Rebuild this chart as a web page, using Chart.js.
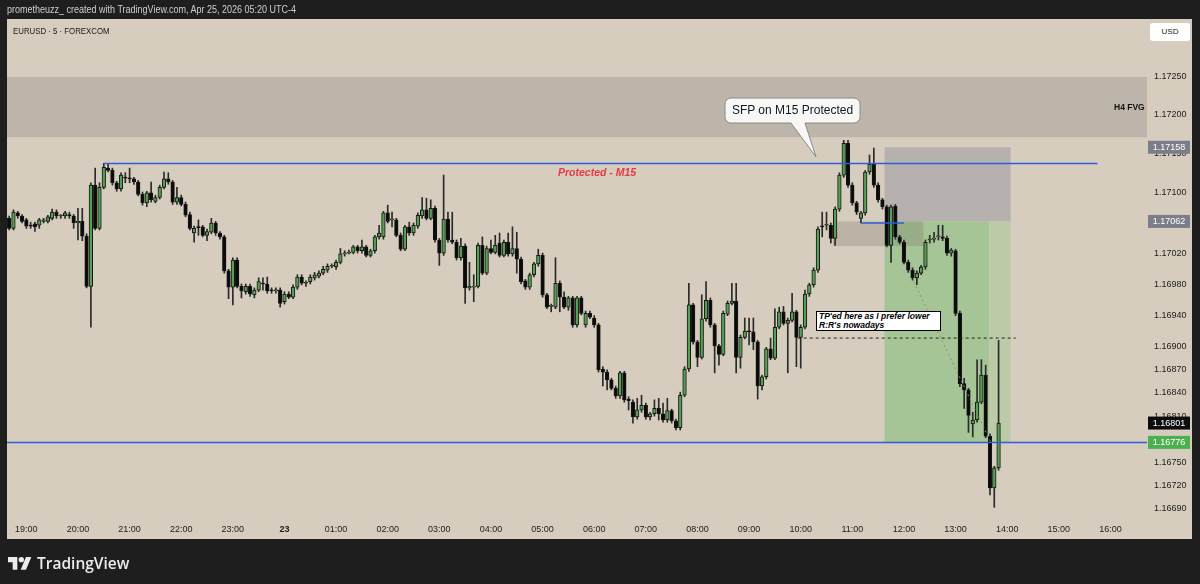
<!DOCTYPE html>
<html>
<head>
<meta charset="utf-8">
<title>EURUSD 5</title>
<script src="https://cdn.jsdelivr.net/npm/chart.js@4.4.1/dist/chart.umd.min.js"></script>
<style>
html, body { margin: 0; padding: 0; background: #1e1e1e; }
#wrap { position: relative; width: 1200px; height: 584px; overflow: hidden; font-family: "Liberation Sans", Arial, sans-serif; }
#chart { position: absolute; left: 0; top: 0; }
.lbl { position: absolute; white-space: nowrap; }
#hdr { left: 7px; top: 4px; font-size: 10px; color: #cfcfcf; transform: scaleX(0.9); transform-origin: left top; }
#sym { left: 13px; top: 26px; font-size: 9px; color: #1a1a1a; transform: scaleX(0.87); transform-origin: left top; }
#usd { left: 1150px; top: 23px; width: 40px; height: 18px; line-height: 18px; background: #fff; border-radius: 3px; font-size: 8px; color: #222; text-align: center; }
#sfp { left: 725px; top: 98px; width: 135px; line-height: 25px; text-align: center; font-size: 12px; color: #131722; }
#prot { left: 558px; top: 166px; font-size: 10.5px; font-weight: bold; font-style: italic; color: #e63946; }
#fvg { left: 1114px; top: 102px; font-size: 8.5px; font-weight: bold; color: #111; }
#tp { left: 816px; top: 311px; width: 121px; height: 18px; border: 1px solid #000; background: #fff; font-size: 8.5px; line-height: 9px; font-weight: bold; font-style: italic; padding-left: 2px; color: #000; }
#logo { left: 8px; top: 552px; color: #ececec; font-family: "Open Sans", "Liberation Sans", sans-serif; font-size: 15.5px; font-weight: 600; display: flex; align-items: center; gap: 5px; }
</style>
</head>
<body>
<div id="wrap">
  <canvas id="chart" width="1200" height="584"></canvas>
  <div class="lbl" id="hdr">prometheuzz_ created with TradingView.com, Apr 25, 2026 05:20 UTC-4</div>
  <div class="lbl" id="sym">EURUSD · 5 · FOREXCOM</div>
  <div class="lbl" id="usd">USD</div>
  <div class="lbl" id="sfp">SFP on M15 Protected</div>
  <div class="lbl" id="prot">Protected - M15</div>
  <div class="lbl" id="fvg">H4 FVG</div>
  <div class="lbl" id="tp">TP'ed here as I prefer lower<br>R:R's nowadays</div>
  <div class="lbl" id="logo">
    <svg width="24" height="16" viewBox="0 0 36 24"><path d="M14 22H7V11H0V3h14v19z" fill="#ececec"/><circle cx="20" cy="7" r="4" fill="#ececec"/><path d="M27 22h-8l8-19h8l-8 19z" fill="#ececec"/></svg>
    <span>TradingView</span>
  </div>
</div>
<script>
// 5 min candles, first one at 18:40
const opens = [
  1.17066, 1.17053, 1.17073, 1.17069, 1.17064, 1.17057, 1.17059, 1.17057, 1.17062, 1.17062,
  1.17066, 1.17074, 1.17069, 1.17069, 1.17071, 1.17069, 1.17060, 1.17062, 1.17043, 1.16978,
  1.17109, 1.17053, 1.17106, 1.17131, 1.17128, 1.17112, 1.17104, 1.17119, 1.17118, 1.17117,
  1.17113, 1.17097, 1.17086, 1.17099, 1.17088, 1.17093, 1.17106, 1.17117, 1.17113, 1.17087,
  1.17093, 1.17084, 1.17071, 1.17047, 1.17055, 1.17055, 1.17044, 1.17048, 1.17060, 1.17047,
  1.17042, 1.16998, 1.16977, 1.17012, 1.16978, 1.16971, 1.16978, 1.16967, 1.16973, 1.16982,
  1.16981, 1.16973, 1.16972, 1.16973, 1.16958, 1.16968, 1.16964, 1.16977, 1.16990, 1.16982,
  1.16984, 1.16989, 1.16991, 1.16995, 1.16999, 1.17004, 1.17003, 1.17009, 1.17020, 1.17021,
  1.17022, 1.17029, 1.17024, 1.17029, 1.17018, 1.17024, 1.17042, 1.17042, 1.17073, 1.17064,
  1.17064, 1.17044, 1.17026, 1.17055, 1.17047, 1.17056, 1.17069, 1.17077, 1.17066, 1.17079,
  1.17038, 1.17021, 1.17065, 1.17038, 1.17035, 1.17015, 1.17030, 1.16976, 1.16977, 1.16978,
  1.17031, 1.16995, 1.17027, 1.17022, 1.17034, 1.17018, 1.17035, 1.17020, 1.17027, 1.17013,
  1.16985, 1.16977, 1.16993, 1.17007, 1.17018, 1.16967, 1.16952, 1.16951, 1.16982, 1.16964,
  1.16951, 1.16963, 1.16928, 1.16963, 1.16928, 1.16943, 1.16937, 1.16928, 1.16871, 1.16867,
  1.16857, 1.16846, 1.16836, 1.16866, 1.16832, 1.16828, 1.16809, 1.16818, 1.16824, 1.16809,
  1.16813, 1.16820, 1.16813, 1.16805, 1.16817, 1.16804, 1.16795, 1.16837, 1.16871, 1.16954,
  1.16906, 1.16886, 1.16936, 1.16960, 1.16928, 1.16901, 1.16890, 1.16942, 1.16956, 1.16959,
  1.16886, 1.16912, 1.16920, 1.16919, 1.16906, 1.16849, 1.16861, 1.16897, 1.16885, 1.16925,
  1.16945, 1.16930, 1.16934, 1.16945, 1.16912, 1.16925, 1.16968, 1.16980, 1.16999, 1.17056,
  1.17057, 1.17057, 1.17040, 1.17078, 1.17122, 1.17163, 1.17109, 1.17086, 1.17066, 1.17073,
  1.17126, 1.17137, 1.17109, 1.17090, 1.17081, 1.17031, 1.17082, 1.17042, 1.17035, 1.17009,
  1.16999, 1.16989, 1.16995, 1.17003, 1.17038, 1.17039, 1.17042, 1.17042, 1.17040, 1.17021,
  1.17024, 1.16943, 1.16852, 1.16844, 1.16800, 1.16805, 1.16828, 1.16863, 1.16784, 1.16717,
  1.16743
];
const highs = [
  1.17069, 1.17077, 1.17075, 1.17071, 1.17066, 1.17061, 1.17061, 1.17066, 1.17066, 1.17070,
  1.17078, 1.17077, 1.17071, 1.17075, 1.17074, 1.17071, 1.17079, 1.17079, 1.17046, 1.17112,
  1.17131, 1.17112, 1.17137, 1.17137, 1.17131, 1.17114, 1.17125, 1.17125, 1.17131, 1.17119,
  1.17115, 1.17100, 1.17101, 1.17113, 1.17096, 1.17109, 1.17126, 1.17125, 1.17115, 1.17106,
  1.17096, 1.17087, 1.17074, 1.17056, 1.17064, 1.17057, 1.17052, 1.17066, 1.17062, 1.17049,
  1.17044, 1.17000, 1.17015, 1.17015, 1.16981, 1.16981, 1.16981, 1.16976, 1.16989, 1.16989,
  1.16990, 1.16976, 1.16976, 1.16976, 1.16971, 1.16971, 1.16980, 1.16993, 1.16993, 1.16985,
  1.16993, 1.16996, 1.16998, 1.17004, 1.17007, 1.17007, 1.17012, 1.17027, 1.17024, 1.17025,
  1.17031, 1.17031, 1.17038, 1.17031, 1.17026, 1.17044, 1.17057, 1.17075, 1.17083, 1.17074,
  1.17066, 1.17047, 1.17057, 1.17061, 1.17060, 1.17073, 1.17093, 1.17092, 1.17090, 1.17082,
  1.17040, 1.17122, 1.17074, 1.17074, 1.17038, 1.17040, 1.17033, 1.17009, 1.16993, 1.17034,
  1.17042, 1.17030, 1.17038, 1.17044, 1.17047, 1.17038, 1.17047, 1.17055, 1.17048, 1.17016,
  1.16987, 1.16995, 1.17009, 1.17026, 1.17021, 1.16969, 1.16955, 1.17015, 1.16985, 1.16971,
  1.16965, 1.16965, 1.16965, 1.16965, 1.16946, 1.16946, 1.16940, 1.16930, 1.16874, 1.16870,
  1.16859, 1.16849, 1.16868, 1.16868, 1.16835, 1.16831, 1.16833, 1.16837, 1.16827, 1.16815,
  1.16831, 1.16833, 1.16827, 1.16833, 1.16819, 1.16806, 1.16841, 1.16874, 1.16982, 1.16956,
  1.16908, 1.16967, 1.16984, 1.16963, 1.16930, 1.16903, 1.16946, 1.16959, 1.16982, 1.16982,
  1.16915, 1.16937, 1.16937, 1.16937, 1.16908, 1.16863, 1.16899, 1.16911, 1.16949, 1.16951,
  1.16952, 1.16937, 1.16969, 1.16947, 1.16928, 1.16973, 1.16982, 1.17002, 1.17055, 1.17074,
  1.17074, 1.17060, 1.17081, 1.17125, 1.17167, 1.17167, 1.17112, 1.17088, 1.17075, 1.17128,
  1.17148, 1.17157, 1.17112, 1.17092, 1.17083, 1.17083, 1.17084, 1.17044, 1.17038, 1.17012,
  1.17002, 1.16998, 1.17005, 1.17038, 1.17044, 1.17048, 1.17057, 1.17057, 1.17043, 1.17027,
  1.17026, 1.16946, 1.16859, 1.16846, 1.16815, 1.16883, 1.16883, 1.16876, 1.16787, 1.16745,
  1.16908
];
const lows = [
  1.17051, 1.17051, 1.17066, 1.17060, 1.17053, 1.17053, 1.17049, 1.17053, 1.17060, 1.17060,
  1.17064, 1.17066, 1.17066, 1.17066, 1.17066, 1.17053, 1.17038, 1.17037, 1.16976, 1.16925,
  1.17051, 1.17051, 1.17104, 1.17126, 1.17109, 1.17101, 1.17101, 1.17112, 1.17112, 1.17110,
  1.17095, 1.17083, 1.17081, 1.17087, 1.17086, 1.17091, 1.17104, 1.17110, 1.17084, 1.17084,
  1.17082, 1.17068, 1.17051, 1.17035, 1.17044, 1.17042, 1.17037, 1.17046, 1.17044, 1.17039,
  1.16995, 1.16962, 1.16954, 1.16976, 1.16963, 1.16968, 1.16965, 1.16963, 1.16971, 1.16973,
  1.16969, 1.16969, 1.16969, 1.16951, 1.16955, 1.16962, 1.16962, 1.16974, 1.16980, 1.16978,
  1.16981, 1.16986, 1.16989, 1.16993, 1.16996, 1.17002, 1.17000, 1.17007, 1.17017, 1.17020,
  1.17020, 1.17021, 1.17021, 1.17016, 1.17016, 1.17021, 1.17039, 1.17039, 1.17060, 1.17055,
  1.17042, 1.17024, 1.17024, 1.17044, 1.17044, 1.17053, 1.17066, 1.17064, 1.17064, 1.17035,
  1.17005, 1.17018, 1.17035, 1.17033, 1.17012, 1.17012, 1.16956, 1.16973, 1.16958, 1.16976,
  1.16993, 1.16993, 1.17020, 1.17020, 1.17016, 1.17016, 1.17017, 1.17017, 1.16995, 1.16981,
  1.16974, 1.16974, 1.16990, 1.17004, 1.16964, 1.16949, 1.16945, 1.16949, 1.16945, 1.16949,
  1.16947, 1.16925, 1.16925, 1.16941, 1.16925, 1.16936, 1.16925, 1.16867, 1.16849, 1.16844,
  1.16844, 1.16833, 1.16833, 1.16828, 1.16818, 1.16801, 1.16806, 1.16815, 1.16806, 1.16805,
  1.16810, 1.16805, 1.16802, 1.16802, 1.16801, 1.16792, 1.16792, 1.16835, 1.16868, 1.16903,
  1.16874, 1.16884, 1.16933, 1.16925, 1.16866, 1.16876, 1.16888, 1.16940, 1.16954, 1.16866,
  1.16872, 1.16910, 1.16902, 1.16896, 1.16832, 1.16844, 1.16858, 1.16883, 1.16883, 1.16923,
  1.16928, 1.16866, 1.16932, 1.16874, 1.16872, 1.16923, 1.16965, 1.16977, 1.16996, 1.17042,
  1.17051, 1.17034, 1.17031, 1.17075, 1.17119, 1.17106, 1.17083, 1.17071, 1.17060, 1.17070,
  1.17123, 1.17106, 1.17087, 1.17078, 1.17029, 1.17009, 1.17039, 1.17033, 1.17007, 1.16996,
  1.16986, 1.16980, 1.16993, 1.17000, 1.17034, 1.17035, 1.17038, 1.17037, 1.17018, 1.17017,
  1.16940, 1.16848, 1.16820, 1.16789, 1.16783, 1.16802, 1.16826, 1.16782, 1.16708, 1.16692,
  1.16740
];
const closes = [
  1.17053, 1.17074, 1.17069, 1.17062, 1.17056, 1.17056, 1.17055, 1.17064, 1.17064, 1.17068,
  1.17074, 1.17069, 1.17070, 1.17073, 1.17069, 1.17060, 1.17062, 1.17043, 1.16978, 1.17109,
  1.17053, 1.17106, 1.17132, 1.17128, 1.17112, 1.17104, 1.17122, 1.17118, 1.17117, 1.17113,
  1.17097, 1.17086, 1.17099, 1.17090, 1.17093, 1.17106, 1.17117, 1.17113, 1.17087, 1.17093,
  1.17084, 1.17070, 1.17053, 1.17053, 1.17054, 1.17044, 1.17049, 1.17060, 1.17047, 1.17042,
  1.16998, 1.16977, 1.17012, 1.16978, 1.16972, 1.16978, 1.16968, 1.16973, 1.16984, 1.16981,
  1.16972, 1.16972, 1.16973, 1.16956, 1.16968, 1.16964, 1.16977, 1.16990, 1.16982, 1.16982,
  1.16990, 1.16993, 1.16995, 1.17000, 1.17004, 1.17004, 1.17009, 1.17020, 1.17021, 1.17022,
  1.17029, 1.17024, 1.17029, 1.17018, 1.17024, 1.17042, 1.17047, 1.17073, 1.17062, 1.17064,
  1.17044, 1.17026, 1.17055, 1.17047, 1.17057, 1.17070, 1.17077, 1.17066, 1.17079, 1.17038,
  1.17021, 1.17065, 1.17038, 1.17035, 1.17015, 1.17030, 1.16976, 1.16978, 1.16977, 1.17031,
  1.16995, 1.17027, 1.17022, 1.17031, 1.17018, 1.17035, 1.17020, 1.17027, 1.17013, 1.16984,
  1.16977, 1.16993, 1.17007, 1.17018, 1.16967, 1.16951, 1.16952, 1.16982, 1.16964, 1.16951,
  1.16963, 1.16928, 1.16963, 1.16943, 1.16943, 1.16938, 1.16928, 1.16870, 1.16867, 1.16857,
  1.16846, 1.16836, 1.16866, 1.16831, 1.16830, 1.16809, 1.16818, 1.16824, 1.16809, 1.16813,
  1.16820, 1.16813, 1.16805, 1.16817, 1.16804, 1.16795, 1.16837, 1.16871, 1.16954, 1.16906,
  1.16886, 1.16936, 1.16960, 1.16928, 1.16901, 1.16890, 1.16943, 1.16956, 1.16959, 1.16886,
  1.16912, 1.16920, 1.16919, 1.16906, 1.16849, 1.16861, 1.16897, 1.16885, 1.16925, 1.16945,
  1.16930, 1.16934, 1.16945, 1.16912, 1.16925, 1.16968, 1.16980, 1.16999, 1.17052, 1.17055,
  1.17057, 1.17040, 1.17078, 1.17122, 1.17163, 1.17109, 1.17086, 1.17074, 1.17073, 1.17126,
  1.17136, 1.17109, 1.17090, 1.17081, 1.17031, 1.17081, 1.17042, 1.17035, 1.17009, 1.16999,
  1.16989, 1.16995, 1.17003, 1.17035, 1.17039, 1.17040, 1.17043, 1.17040, 1.17021, 1.17025,
  1.16943, 1.16852, 1.16844, 1.16811, 1.16805, 1.16828, 1.16863, 1.16784, 1.16717, 1.16743,
  1.16801
];

const hourLabels = ['19:00', '20:00', '21:00', '22:00', '23:00', '23', '01:00', '02:00', '03:00', '04:00', '05:00',
  '06:00', '07:00', '08:00', '09:00', '10:00', '11:00', '12:00', '13:00', '14:00', '15:00', '16:00'];
const priceTicks = [1.17250, 1.17200, 1.17150, 1.17100, 1.17020, 1.16980, 1.16940, 1.16900,
  1.16870, 1.16840, 1.16810, 1.16750, 1.16720, 1.16690];

// drawn levels (price) and zones
const fvgZone = [1.17171, 1.17249];
const protectedLevel = 1.17137;
const protectedSpan = [22, 253];
const sfpLevel = 1.17060;
const sfpSpan = [198, 208];
const obZone = [1.17030, 1.17062];
const obSpan = [191.5, 212.5];
const stopPrice = 1.17158;
const entryPrice = 1.17062;
const targetPrice = 1.16776;
const positionSpan = [203.5, 227.7, 232.8];
const tpLevel = 1.16911;
const tpSpan = [183.3, 234];
const pathLine = [[210.3, 1.16984], [228.2, 1.16776]];
const lastPrice = 1.16801;
const tagPrices = [stopPrice, entryPrice, lastPrice, targetPrice];
const tagColors = ['#7b7e88', '#7b7e88', '#0d0d0d', '#4caf50'];

// category slots every 5 min from 18:40 up to 16:40
const slots = [];
for (let i = 0; i < 265; i++) {
  const m = (18 * 60 + 40 + i * 5) % 1440;
  slots.push(String(Math.floor(m / 60)).padStart(2, '0') + ':' + String(m % 60).padStart(2, '0'));
}
const hourSlots = slots.map((s, i) => s.endsWith(':00') ? i : -1).filter(i => i >= 0);

const bodies = opens.map((o, i) => [o, closes[i]]);
const wicks = lows.map((l, i) => [l, highs[i]]);
const bodyColors = opens.map((o, i) => closes[i] >= o ? '#55a052' : '#0a0a0a');

const BLUE = '#2f5cdc';

const drawings = {
  id: 'drawings',
  beforeDraw(chart) {
    const ctx = chart.ctx;
    ctx.save();
    ctx.fillStyle = '#1e1e1e';
    ctx.fillRect(0, 0, chart.width, chart.height);
    ctx.fillStyle = '#d6cdbe';
    ctx.fillRect(7, 19, 1185, 520);
    ctx.restore();
  },
  beforeDatasetsDraw(chart) {
    const { ctx, chartArea: a, scales: { x, y } } = chart;
    const X = v => x.getPixelForValue(v);
    const Y = v => y.getPixelForValue(v);
    ctx.save();
    // H4 FVG
    ctx.fillStyle = '#bdb5a9';
    ctx.fillRect(a.left, Y(fvgZone[1]), a.right - a.left, Y(fvgZone[0]) - Y(fvgZone[1]));
    // position: stop side
    ctx.fillStyle = '#b6b0ae';
    ctx.fillRect(X(positionSpan[0]), Y(stopPrice), X(positionSpan[2]) - X(positionSpan[0]), Y(entryPrice) - Y(stopPrice));
    // position: target side
    ctx.fillStyle = '#bccaa8';
    ctx.fillRect(X(positionSpan[0]), Y(entryPrice), X(positionSpan[2]) - X(positionSpan[0]), Y(targetPrice) - Y(entryPrice));
    ctx.fillStyle = '#a6c596';
    ctx.fillRect(X(positionSpan[0]), Y(entryPrice), X(positionSpan[1]) - X(positionSpan[0]), Y(targetPrice) - Y(entryPrice));
    // order block
    ctx.fillStyle = 'rgba(120,110,100,0.28)';
    ctx.fillRect(X(obSpan[0]), Y(obZone[1]), X(obSpan[1]) - X(obSpan[0]), Y(obZone[0]) - Y(obZone[1]));
    ctx.restore();
  },
  afterDatasetsDraw(chart) {
    const { ctx, chartArea: a, scales: { x, y } } = chart;
    const X = v => x.getPixelForValue(v);
    const Y = v => y.getPixelForValue(v);
    ctx.save();
    ctx.strokeStyle = BLUE;
    ctx.lineWidth = 1.5;
    ctx.beginPath();
    ctx.moveTo(X(protectedSpan[0]), Y(protectedLevel));
    ctx.lineTo(X(protectedSpan[1]), Y(protectedLevel));
    ctx.moveTo(a.left, Y(targetPrice));
    ctx.lineTo(a.right, Y(targetPrice));
    ctx.moveTo(X(sfpSpan[0]), Y(sfpLevel));
    ctx.lineTo(X(sfpSpan[1]), Y(sfpLevel));
    ctx.stroke();

    // TP dashed level
    ctx.strokeStyle = '#222';
    ctx.lineWidth = 1;
    ctx.setLineDash([3, 3]);
    ctx.beginPath();
    ctx.moveTo(X(tpSpan[0]), Y(tpLevel));
    ctx.lineTo(X(tpSpan[1]), Y(tpLevel));
    ctx.stroke();

    // position path
    ctx.strokeStyle = '#8d8d88';
    ctx.setLineDash([2, 3]);
    ctx.beginPath();
    ctx.moveTo(X(pathLine[0][0]), Y(pathLine[0][1]));
    ctx.lineTo(X(pathLine[1][0]), Y(pathLine[1][1]));
    ctx.stroke();
    ctx.setLineDash([]);

    // callout bubble
    const l = 725, r = 860, t = 98, b = 123, rad = 6;
    ctx.beginPath();
    ctx.moveTo(l + rad, t);
    ctx.arcTo(r, t, r, b, rad);
    ctx.arcTo(r, b, l, b, rad);
    ctx.lineTo(805, b);
    ctx.lineTo(816, 157);
    ctx.lineTo(791, b);
    ctx.arcTo(l, b, l, t, rad);
    ctx.arcTo(l, t, r, t, rad);
    ctx.closePath();
    ctx.fillStyle = '#f7f7f6';
    ctx.fill();
    ctx.strokeStyle = '#8a8a8a';
    ctx.lineWidth = 1;
    ctx.stroke();
    ctx.restore();
  },
  afterDraw(chart) {
    const { ctx, scales: { y } } = chart;
    ctx.save();
    ctx.font = '9px "Liberation Sans", Arial, sans-serif';
    ctx.textAlign = 'center';
    ctx.textBaseline = 'middle';
    tagPrices.forEach((p, i) => {
      const py = y.getPixelForValue(p);
      ctx.fillStyle = tagColors[i];
      ctx.fillRect(1148, py - 6.5, 42, 13);
      ctx.fillStyle = '#fff';
      ctx.fillText(p.toFixed(5), 1169, py + 0.5);
    });
    ctx.restore();
  }
};

new Chart(document.getElementById('chart'), {
  type: 'bar',
  data: {
    labels: slots,
    datasets: [
      {
        label: 'body',
        data: bodies,
        backgroundColor: bodyColors,
        borderColor: '#161616',
        borderWidth: 1,
        borderSkipped: false,
        barThickness: 3.6,
        minBarLength: 1,
        grouped: false
      },
      {
        label: 'wick',
        data: wicks,
        backgroundColor: '#2a2a2a',
        barThickness: 1,
        grouped: false
      }
    ]
  },
  options: {
    responsive: false,
    animation: false,
    layout: { padding: { left: 7, right: 8, top: 19, bottom: 45 } },
    plugins: { legend: { display: false }, tooltip: { enabled: false } },
    scales: {
      x: {
        type: 'category',
        offset: true,
        grid: { display: false, drawTicks: false },
        border: { display: false },
        afterBuildTicks: s => { s.ticks = s.ticks.filter(t => hourSlots.includes(t.value)); },
        afterFit: s => { s.height = 24; },
        ticks: {
          autoSkip: false,
          maxRotation: 0,
          padding: 9,
          color: '#1c1c1c',
          font: c => ({ size: 9, family: '"Liberation Sans", Arial, sans-serif', weight: (c.tick && c.tick.value === 64) ? 'bold' : 'normal' }),
          callback: v => hourLabels[hourSlots.indexOf(v)]
        }
      },
      y: {
        position: 'right',
        min: 1.16682,
        max: 1.17324,
        grid: { display: false, drawTicks: false },
        border: { display: false },
        afterBuildTicks: s => { s.ticks = priceTicks.map(v => ({ value: v })); },
        afterFit: s => { s.width = 45; },
        ticks: {
          padding: 7,
          color: '#1c1c1c',
          font: { size: 9, family: '"Liberation Sans", Arial, sans-serif' },
          callback: v => v.toFixed(5)
        }
      }
    }
  },
  plugins: [drawings]
});
</script>
</body>
</html>
